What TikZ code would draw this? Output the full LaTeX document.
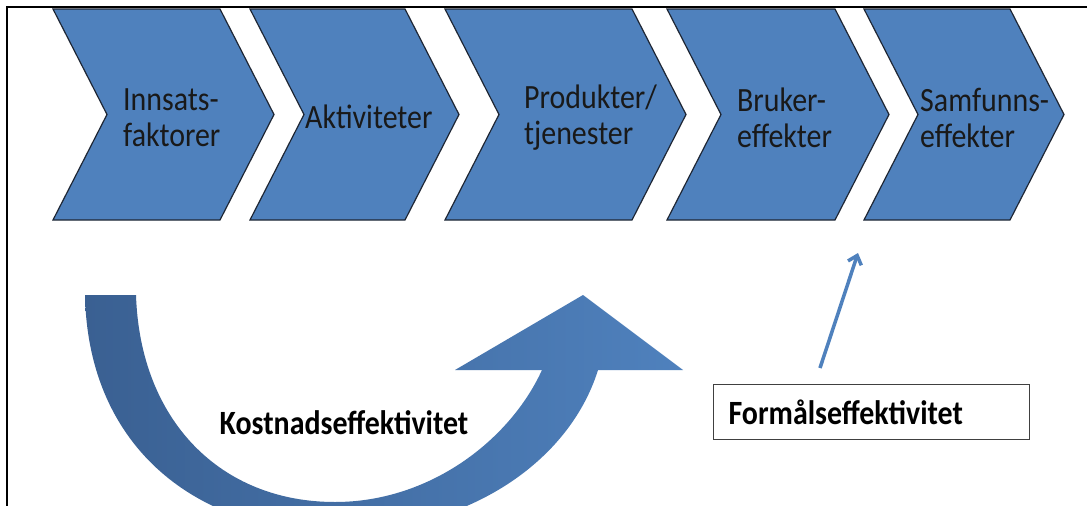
\documentclass[tikz,border=0pt]{standalone}
\usepackage{fontspec}
\setmainfont{Carlito}
\newfontfamily\tallfont[FakeStretch=0.88]{Carlito}
\usetikzlibrary{arrows.meta}
\definecolor{chevblue}{RGB}{79,129,189}
\definecolor{chevline}{RGB}{30,38,52}
\definecolor{arcdark}{RGB}{58,96,146}
\tikzset{
  chevron/.style={fill=chevblue, draw=chevline, line width=1.2pt, line join=miter},
  chevtext/.style={anchor=west, align=left, inner sep=0pt, text=black!90, font=\tallfont\fontsize{34}{36}\selectfont},
  effbox/.style={draw=black!75, line width=1.2pt, fill=white, inner xsep=15pt, inner ysep=0pt,
    text width=286pt, minimum height=55pt, align=left, font=\tallfont\bfseries\fontsize{34}{36}\selectfont},
  thinarrow/.style={draw=chevblue, line width=3.5pt, -{Straight Barb[length=8pt, width=14pt]}}
}
\begin{document}
\begin{tikzpicture}[x=1pt, y=-1pt]
                \useasboundingbox (0,0) rectangle (1087,506);
                \fill[white] (0,0) rectangle (1087,506);
                % chevrons
                \foreach \l/\r in {53/220, 250/405, 445/632, 667/835, 864/1010}
                  \draw[chevron] (\l,9) -- (\r,9) -- (\r+54,114.5) -- (\r,220) -- (\l,220) -- (\l+54,114.5) -- cycle;
                \node[chevtext] (innsats) at (123,118) {Innsats-\\faktorer};
                \node[chevtext] (aktivitet) at (305,117) {Aktiviteter};
                \node[chevtext] (produkt) at (524,118) {Produkter/\\tjenester};
                \node[chevtext] (bruker) at (737,118) {Bruker-\\effekter};
                \node[chevtext] (samfunn) at (920,118) {Samfunns-\\effekter};
                % curved arrow
                \begin{scope}
                  \clip (0,0) rectangle (1087,506);
                  \shade[left color=arcdark, right color=chevblue]
                    (85,295) .. controls (88,450) and (200,532) .. (335,532)
                    .. controls (470,532) and (570,460) .. (598,370)
                    -- (683,370) -- (583,295) -- (455,370) -- (542,370)
                    .. controls (510,440) and (430,502) .. (335,502)
                    .. controls (220,502) and (140,420) .. (136,295) -- cycle;
                \end{scope}
                \node[inner sep=0pt, font=\tallfont\bfseries\fontsize{34}{36}\selectfont] (kostnad) at (344,423) {Kostnadseffektivitet};
                % box and thin arrow
                \node[effbox, anchor=north west] (formaal) at (713,384) {Formålseffektivitet};
                \coordinate (pilstart) at (820,368);
                \coordinate (piltopp) at (858,253);
                \draw[thinarrow] (pilstart) -- (piltopp);
                % frame
                \draw[line width=2.5pt] (7,506) -- (7,7) -- (1087,7);
            \end{tikzpicture}
\end{document}
